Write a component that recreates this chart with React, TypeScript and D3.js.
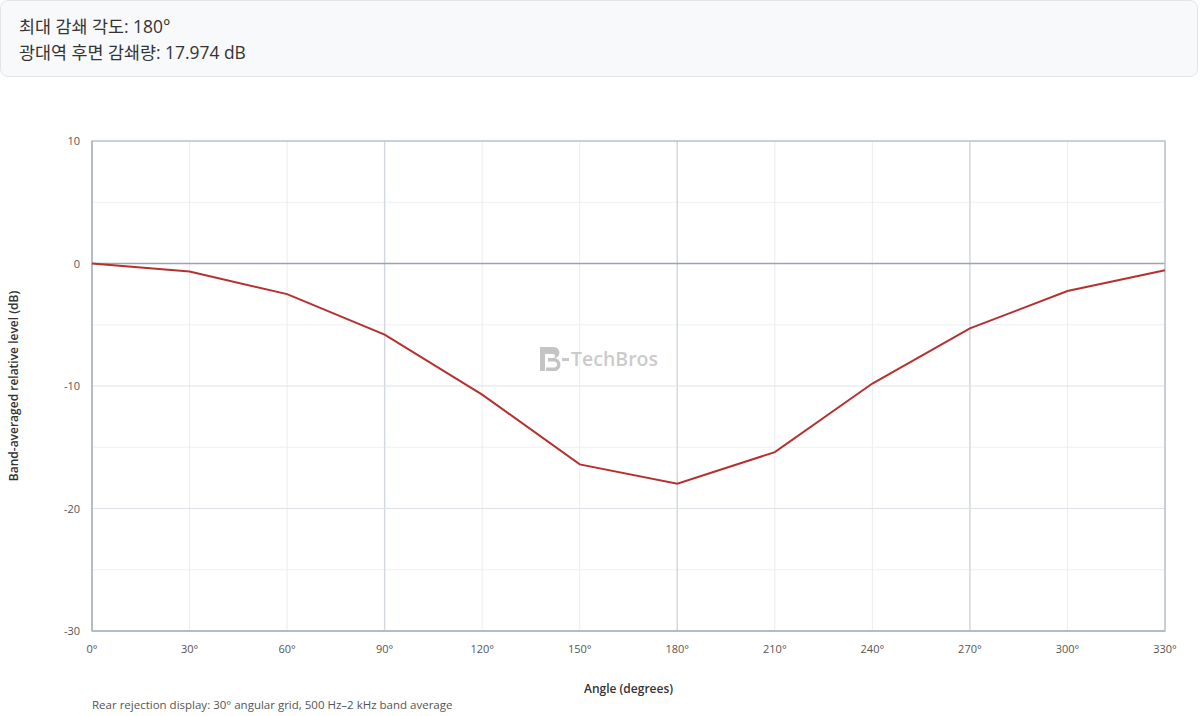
import * as React from "react";
import * as d3 from "d3";

const angles = [0, 30, 60, 90, 120, 150, 180, 210, 240, 270, 300, 330];
const levels = [0, -0.65, -2.5, -5.8, -10.7, -16.4, -17.974, -15.4, -9.8, -5.3, -2.25, -0.55];
const yTicks = [10, 0, -10, -20, -30];
const yMinor = [5, -5, -15, -25];
const majorAngles = [90, 180, 270];

const summaryLines = ["최대 감쇄 각도: 180°", "광대역 후면 감쇄량: 17.974 dB"];
const xTitle = "Angle (degrees)";
const yTitle = "Band-averaged relative level (dB)";
const footnote = "Rear rejection display: 30° angular grid, 500 Hz–2 kHz band average";

const W = 1200;
const H = 716;
const margin = { top: 141, right: 35, bottom: 85, left: 92 };
const font = "'Open Sans', 'Noto Sans', 'Noto Sans CJK KR', sans-serif";

function drawChart(svgRef: React.RefObject<SVGSVGElement | null>) {
  const svg = d3.select(svgRef.current);
  svg.selectAll("*").remove();
  svg.attr("width", W).attr("height", H).style("font-family", font);

  const x = d3.scaleLinear().domain([0, 330]).range([margin.left, W - margin.right]);
  const y = d3.scaleLinear().domain([-30, 10]).range([H - margin.bottom, margin.top]);

  const g = svg.append("g");

  // minor horizontal grid
  g.selectAll(".ymin")
    .data(yMinor)
    .join("line")
    .attr("x1", x(0))
    .attr("x2", x(330))
    .attr("y1", (d) => y(d))
    .attr("y2", (d) => y(d))
    .attr("stroke", "#edf0f3")
    .attr("stroke-width", 1);

  // vertical grid, 30° steps, 90° steps stronger
  g.selectAll(".xgrid")
    .data(angles.filter((a) => a > 0))
    .join("line")
    .attr("x1", (d) => x(d))
    .attr("x2", (d) => x(d))
    .attr("y1", y(10))
    .attr("y2", y(-30))
    .attr("stroke", (d) => (majorAngles.includes(d) ? "#d3d8de" : "#eaedf1"))
    .attr("stroke-width", (d) => (majorAngles.includes(d) ? 1.5 : 1));

  // major horizontal grid
  g.selectAll(".ymaj")
    .data([-10, -20])
    .join("line")
    .attr("x1", x(0))
    .attr("x2", x(330))
    .attr("y1", (d) => y(d))
    .attr("y2", (d) => y(d))
    .attr("stroke", "#dde1e5")
    .attr("stroke-width", 1.2);

  // zero reference
  g.append("line")
    .attr("x1", x(0))
    .attr("x2", x(330))
    .attr("y1", y(0))
    .attr("y2", y(0))
    .attr("stroke", "#9aa5ae")
    .attr("stroke-width", 1.5);

  // watermark
  const wm = g.append("g").attr("transform", `translate(540,${y(-7.8)})`).attr("fill", "#c9c9c9");
  wm.append("path")
    .attr("d", "M0,-12 h14 a5.5,5.5 0 0 1 0,11 a6.5,6.5 0 0 1 0,13 h-8 v-3.5 h8 a3,3 0 0 0 0,-6 h-6 v-3.5 h5 a2,2 0 0 0 0,-4 h-8 v17 h-5 z")
    .attr("fill", "#c4c4c4");
  wm.append("rect").attr("x", 22).attr("y", -1).attr("width", 7).attr("height", 3);
  wm.append("text")
    .attr("x", 31)
    .attr("y", 7)
    .attr("font-size", 19.5)
    .attr("font-weight", 600)
    .attr("fill", "#cbcbcb")
    .text("TechBros");

  // frame
  g.append("rect")
    .attr("x", x(0))
    .attr("y", y(10))
    .attr("width", x(330) - x(0))
    .attr("height", y(-30) - y(10))
    .attr("fill", "none")
    .attr("stroke", "#b9c2c9")
    .attr("stroke-width", 1.5);
  g.append("line")
    .attr("x1", x(0))
    .attr("x2", x(0))
    .attr("y1", y(10))
    .attr("y2", y(-30))
    .attr("stroke", "#b4bdc4")
    .attr("stroke-width", 2);
  g.append("line")
    .attr("x1", x(0))
    .attr("x2", x(330))
    .attr("y1", y(-30))
    .attr("y2", y(-30))
    .attr("stroke", "#b4bdc4")
    .attr("stroke-width", 2);

  // series
  const line = d3
    .line<number>()
    .x((d, i) => x(angles[i]))
    .y((d) => y(d));
  g.append("path")
    .datum(levels)
    .attr("d", line)
    .attr("fill", "none")
    .attr("stroke", "#b5302f")
    .attr("stroke-width", 2);

  // tick labels
  g.selectAll(".ylab")
    .data(yTicks)
    .join("text")
    .attr("x", x(0) - 12)
    .attr("y", (d) => y(d) + 4)
    .attr("text-anchor", "end")
    .attr("font-size", 11)
    .attr("fill", "#555")
    .text((d) => String(d));

  g.selectAll(".xlab")
    .data(angles)
    .join("text")
    .attr("x", (d) => x(d))
    .attr("y", y(-30) + 22)
    .attr("text-anchor", "middle")
    .attr("font-size", 11)
    .attr("fill", "#555")
    .text((d) => `${d}°`);

  // titles
  g.append("text")
    .attr("x", (x(0) + x(330)) / 2)
    .attr("y", 693)
    .attr("text-anchor", "middle")
    .attr("font-size", 12)
    .attr("font-weight", 600)
    .attr("fill", "#333")
    .text(xTitle);
  g.append("text")
    .attr("transform", `translate(18,${(y(10) + y(-30)) / 2}) rotate(-90)`)
    .attr("text-anchor", "middle")
    .attr("font-size", 12)
    .attr("font-weight", 600)
    .attr("fill", "#333")
    .text(yTitle);
  g.append("text")
    .attr("x", x(0))
    .attr("y", 709)
    .attr("font-size", 11.5)
    .attr("fill", "#555")
    .text(footnote);
}

const App: React.FunctionComponent = () => {
  const svg = React.useRef<SVGSVGElement>(null);
  React.useEffect(() => {
    document.body.style.margin = "0";
    drawChart(svg);
  }, [svg]);

  return (
    <div style={{ position: "relative", width: W, height: H, overflow: "hidden", fontFamily: font }}>
      <svg ref={svg} style={{ position: "absolute", left: 0, top: 0 }} />
      <div
        style={{
          position: "absolute",
          left: 0,
          top: 0,
          width: 1198,
          height: 77,
          boxSizing: "border-box",
          background: "#f8f9fa",
          border: "1px solid #e2e5e9",
          borderRadius: 8,
          padding: "12px 18px",
          fontSize: 17.4,
          lineHeight: "26px",
          color: "#333",
        }}
      >
        {summaryLines.map((t) => (
          <div key={t}>{t}</div>
        ))}
      </div>
    </div>
  );
};

export default App;
